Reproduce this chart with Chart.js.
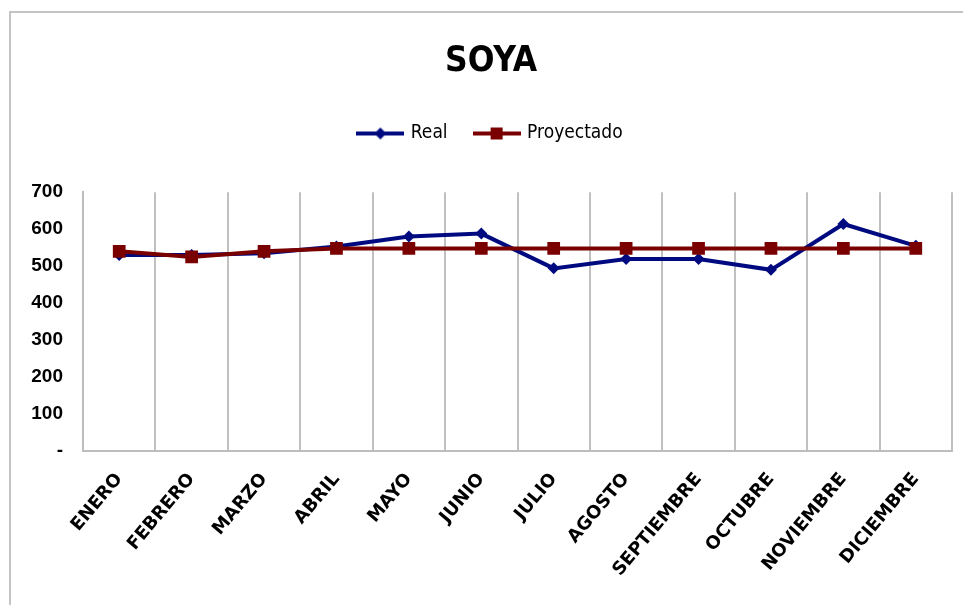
<!DOCTYPE html>
<html>
<head>
<meta charset="utf-8">
<script src="https://cdn.jsdelivr.net/npm/chart.js@4/dist/chart.umd.min.js"></script>
<style>
  html, body { margin: 0; padding: 0; background: #fff; }
  #wrap { position: relative; width: 963px; height: 605px; overflow: hidden; }
  #frame { position: absolute; left: 9px; top: 11px; width: 1000px; height: 700px; border: 2px solid #c4c4c4; }
  #soyaChart { position: absolute; left: 0; top: 0; }
</style>
</head>
<body>
<div id="wrap">
  <div id="frame"></div>
  <canvas id="soyaChart" width="963" height="605"></canvas>
</div>
<script>
// data
const months = ['ENERO', 'FEBRERO', 'MARZO', 'ABRIL', 'MAYO', 'JUNIO', 'JULIO', 'AGOSTO', 'SEPTIEMBRE', 'OCTUBRE', 'NOVIEMBRE', 'DICIEMBRE'];
const real = [530, 530, 535, 553, 580, 588, 494, 519, 519, 490, 614, 555];
const proyectado = [540, 525, 540, 548, 548, 548, 548, 548, 548, 548, 548, 548];
const yTicks = [0, 100, 200, 300, 400, 500, 600, 700];

const BLUE = '#000a80';
const MAROON = '#7a0000';
const narrow = "'Liberation Sans Narrow', 'DejaVu Sans Condensed', 'Open Sans', sans-serif";

// legend swatch: line with marker in the middle (Excel style)
const makeSwatch = (color, marker) => {
    const c = document.createElement('canvas');
    c.width = 48; c.height = 16;
    const ctx = c.getContext('2d');
    ctx.strokeStyle = color;
    ctx.lineWidth = 4;
    ctx.beginPath();
    ctx.moveTo(0, 8); ctx.lineTo(48, 8);
    ctx.stroke();
    ctx.fillStyle = color;
    ctx.beginPath();
    if (marker === 'diamond') {
        ctx.moveTo(24, 2); ctx.lineTo(30, 8); ctx.lineTo(24, 14); ctx.lineTo(18, 8);
    } else {
        ctx.rect(18, 2, 12, 12);
    }
    ctx.fill();
    return c;
};
const swatches = [makeSwatch(BLUE, 'diamond'), makeSwatch(MAROON, 'square')];

new Chart(document.getElementById('soyaChart'), {
    type: 'line',
    data: {
        labels: months,
        datasets: [
            {
                label: 'Real',
                data: real,
                borderColor: BLUE,
                backgroundColor: BLUE,
                borderWidth: 4,
                pointStyle: 'rectRot',
                pointRadius: 6,
                pointBorderWidth: 0,
                tension: 0,
                order: 1
            },
            {
                label: 'Proyectado',
                data: proyectado,
                borderColor: MAROON,
                backgroundColor: MAROON,
                borderWidth: 4,
                pointStyle: 'rect',
                pointRadius: 9,
                pointBorderWidth: 0,
                tension: 0,
                order: 0
            }
        ]
    },
    options: {
        responsive: false,
        animation: false,
        layout: { padding: { left: 30, right: 11, top: 0, bottom: 0 } },
        plugins: {
            tooltip: { enabled: false },
            title: {
                display: true,
                text: 'SOYA',
                color: '#000',
                font: { family: narrow, size: 35, weight: 'bold' },
                padding: { top: 41, bottom: 13 }
            },
            legend: {
                display: true,
                labels: {
                    color: '#000',
                    font: { family: narrow, size: 19 },
                    usePointStyle: true,
                    pointStyleWidth: 42,
                    padding: 28,
                    generateLabels: (chart) => chart.data.datasets.map((ds, i) => ({
                        text: ds.label,
                        pointStyle: swatches[i],
                        fillStyle: ds.borderColor,
                        strokeStyle: ds.borderColor,
                        lineWidth: 0,
                        hidden: false,
                        datasetIndex: i,
                        fontColor: '#000'
                    }))
                }
            },
            // empty spacer box that sits between the legend and the plot
            subtitle: {
                display: true,
                text: ' ',
                weight: 500,
                font: { size: 1 },
                padding: { top: 0, bottom: 38 }
            }
        },
        scales: {
            x: {
                offset: true,
                grid: { display: true, offset: true, color: '#c0c0c0', lineWidth: 2, drawTicks: false },
                border: { display: true, color: '#bdbdbd', width: 2 },
                ticks: {
                    color: '#000',
                    autoSkip: false,
                    minRotation: 50,
                    maxRotation: 50,
                    padding: 18,
                    font: { family: "'DejaVu Sans', sans-serif", size: 18, weight: 'bold' }
                },
                afterFit: (scale) => { scale.height = 154; }
            },
            y: {
                min: 0,
                max: 700,
                afterBuildTicks: (scale) => { scale.ticks = yTicks.map(v => ({ value: v })); },
                grid: { display: false, drawTicks: false },
                border: { display: true, color: '#bdbdbd', width: 2 },
                ticks: {
                    color: '#000',
                    padding: 20,
                    font: { family: "'Liberation Sans', sans-serif", size: 19, weight: 'bold' },
                    callback: (v) => v === 0 ? '-' : v
                },
                afterFit: (scale) => { scale.width = 53; }
            }
        }
    }
});
</script>
</body>
</html>
